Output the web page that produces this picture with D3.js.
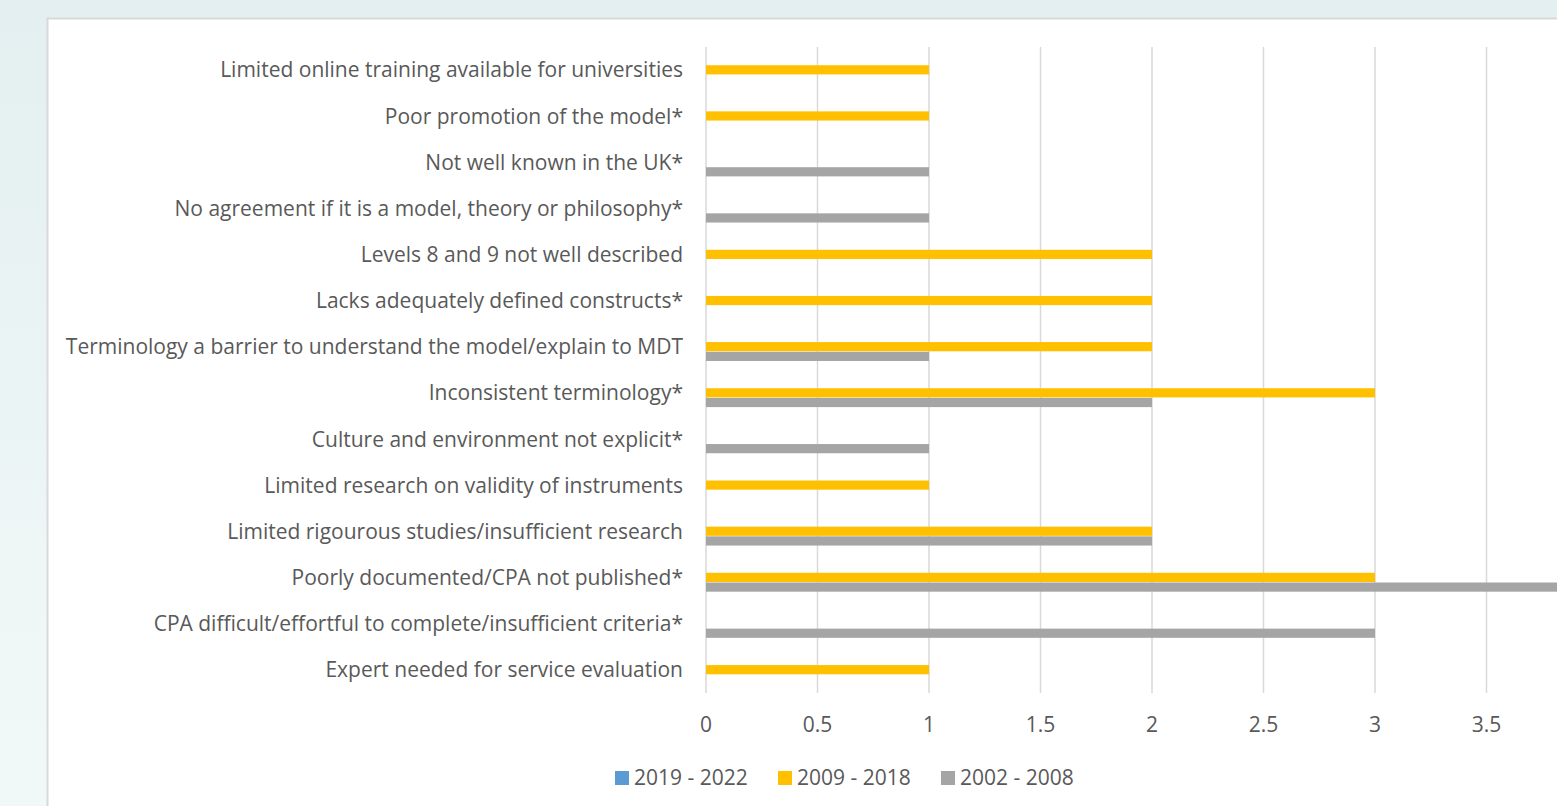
<!DOCTYPE html>
<html>
<head>
<meta charset="utf-8">
<script src="https://cdn.jsdelivr.net/npm/d3@7"></script>
<style>
  html, body { margin: 0; padding: 0; overflow: hidden; }
  body { width: 1557px; height: 806px; background: linear-gradient(180deg, #e3eff0 0%, #eef6f6 70%, #f1f8f8 100%); }
  svg { display: block; }
  text { font-family: "Open Sans", "Lato", sans-serif; fill: #595959; }
</style>
</head>
<body>
<svg id="chart" width="1557" height="806"></svg>
<script>
const categories = [
  "Limited online training available for universities",
  "Poor promotion of the model*",
  "Not well known in the UK*",
  "No agreement if it is a model, theory or philosophy*",
  "Levels 8 and 9 not well described",
  "Lacks adequately defined constructs*",
  "Terminology a barrier to understand the model/explain to MDT",
  "Inconsistent terminology*",
  "Culture and environment not explicit*",
  "Limited research on validity of instruments",
  "Limited rigourous studies/insufficient research",
  "Poorly documented/CPA not published*",
  "CPA difficult/effortful to complete/insufficient criteria*",
  "Expert needed for service evaluation"
];

const seriesNames = ["2019 - 2022", "2009 - 2018", "2002 - 2008"];
const seriesColors = ["#5b9bd5", "#ffc000", "#a5a5a5"];

const values2019 = [0, 0, 0, 0, 0, 0, 0, 0, 0, 0, 0, 0, 0, 0];
const values2009 = [1, 1, 0, 0, 2, 2, 2, 3, 0, 1, 2, 3, 0, 1];
const values2002 = [0, 0, 1, 1, 0, 0, 1, 2, 1, 0, 2, 4, 3, 0];

const xTicks = [0, 0.5, 1, 1.5, 2, 2.5, 3, 3.5, 4];

const allValues = [values2019, values2009, values2002];

const W = 1557, H = 806;
const plot = { left: 706, right: 1598, top: 47, bottom: 693 };

const svg = d3.select("#chart");

// panel
svg.append("rect")
  .attr("x", 47.5).attr("y", 18.5)
  .attr("width", W).attr("height", H)
  .attr("fill", "#ffffff")
  .attr("stroke", "#d9d9d9")
  .attr("stroke-width", 2);

const x = d3.scaleLinear().domain([0, 4]).range([plot.left, plot.right]);

const y = d3.scaleBand()
  .domain(categories)
  .range([plot.top, plot.bottom])
  .paddingInner(0.37)
  .paddingOuter(0.185);

const ySeries = d3.scaleBand()
  .domain(seriesNames)
  .range([0, y.bandwidth()]);

// Grid
svg.append("g")
  .selectAll("line")
  .data(xTicks)
  .enter()
  .append("line")
  .attr("x1", d => x(d)).attr("x2", d => x(d))
  .attr("y1", plot.top).attr("y2", plot.bottom)
  .attr("stroke", "#d9d9d9")
  .attr("stroke-width", 1.5);

// Bars
const rows = categories.map((c, i) => ({
  cat: c,
  vals: seriesNames.map((s, j) => ({ s: s, v: allValues[j][i], color: seriesColors[j] }))
}));

const groups = svg.append("g")
  .selectAll("g")
  .data(rows)
  .enter()
  .append("g")
  .attr("transform", d => `translate(0,${y(d.cat)})`);

groups.selectAll("rect")
  .data(d => d.vals)
  .enter()
  .append("rect")
  .attr("x", x(0))
  .attr("y", d => ySeries(d.s))
  .attr("height", ySeries.bandwidth() - 0.5)
  .attr("width", d => x(d.v) - x(0))
  .attr("fill", d => d.color);

// Category labels
svg.append("g")
  .selectAll("text")
  .data(categories)
  .enter()
  .append("text")
  .attr("x", 683)
  .attr("y", d => y(d) + y.bandwidth() / 2)
  .attr("dy", "0.35em")
  .attr("text-anchor", "end")
  .attr("font-size", 21)
  .text(d => d);

// Axis X labels (the last tick sits beyond the visible edge)
svg.append("g")
  .selectAll("text")
  .data(xTicks.filter(d => x(d) < W - 20))
  .enter()
  .append("text")
  .attr("x", d => x(d))
  .attr("y", 725)
  .attr("dy", "0.35em")
  .attr("text-anchor", "middle")
  .attr("font-size", 21)
  .text(d => d);

// Legend
const legendX = [615, 778, 941];
const legend = svg.append("g")
  .selectAll("g")
  .data(seriesNames)
  .enter()
  .append("g")
  .attr("transform", (d, i) => `translate(${legendX[i]},778)`);

legend.append("rect")
  .attr("x", 0).attr("y", -7)
  .attr("width", 14).attr("height", 14)
  .attr("fill", (d, i) => seriesColors[i]);

legend.append("text")
  .attr("x", 19)
  .attr("y", 0)
  .attr("dy", "0.35em")
  .attr("font-size", 21)
  .text(d => d);
</script>
</body>
</html>
